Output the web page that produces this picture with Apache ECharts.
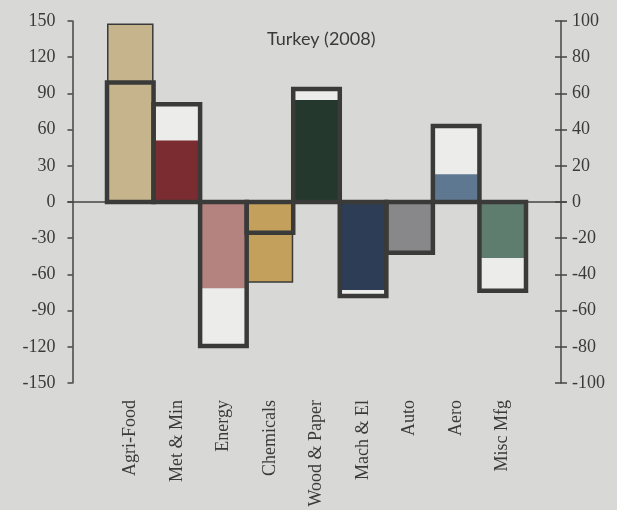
<!DOCTYPE html>
<html>
<head>
<meta charset="utf-8">
<script src="https://cdn.jsdelivr.net/npm/echarts@6/dist/echarts.min.js"></script>
<style>
html,body{margin:0;padding:0;background:#d8d9d6;}
#chart{width:617px;height:510px;}
</style>
</head>
<body>
<div id="chart"></div>
<script>
var categories = ['Agri-Food','Met & Min','Energy','Chemicals','Wood & Paper','Mach & El','Auto','Aero','Misc Mfg'];
// filled coloured bars (left axis)
var barValues = [148, 51, -71.5, -67, 84.5, -73, -42, 23, -46.5];
// outlined boxes (right axis)
var boxValues = [66, 54, -79.5, -17, 62.5, -52, -28, 42, -49];
var barColors = ['#c6b48c','#7a2c30','#b48380','#c3a05c','#24382e','#2e3d56','#88888a','#5f7891','#5f7d6e'];
var leftTicks = {min:-150, max:150, interval:30};
var rightTicks = {min:-100, max:100, interval:20};

var ink = '#3a3a38';
var labelFont = {fontFamily:'Liberation Serif', fontSize:18, color:'#3a3a3a'};

var barData = barValues.map(function(v,i){
  var exceeds = Math.abs(v)/leftTicks.max > Math.abs(boxValues[i])/rightTicks.max;
  return {value:v, itemStyle:{color:barColors[i], borderColor:ink, borderWidth: exceeds ? 1.5 : 0}};
});
var boxData = boxValues.map(function(v,i){ return [i, v]; });

function boxRender(params, api){
  var i = api.value(0), v = api.value(1);
  var end = api.coord([i, v]);
  var base = api.coord([i, 0]);
  var w = api.size([1, 0])[0];
  return {
    type:'rect',
    shape:{x:end[0]-w/2, y:Math.min(end[1], base[1]), width:w, height:Math.abs(base[1]-end[1])},
    style:{fill:'none', stroke:ink, lineWidth:4.5}
  };
}

var chart = echarts.init(document.getElementById('chart'));
chart.setOption({
  backgroundColor:'#d8d9d6',
  animation:false,
  title:{text:'Turkey (2008)', left:262, top:25,
    textStyle:{fontFamily:'Lato', fontSize:18, fontWeight:'normal', color:'#3a3a3a'}},
  grid:[
    {left:107, right:91, top:21, bottom:127},
    {left:68, right:51, top:21, bottom:127}
  ],
  xAxis:[
    {type:'category', gridIndex:0, data:categories,
     axisLine:{show:false, onZero:false}, axisTick:{show:false},
     axisLabel:Object.assign({rotate:90, margin:17, interval:0}, labelFont)},
    {type:'category', gridIndex:1, data:[''],
     axisLine:{show:true, onZero:true, lineStyle:{color:'#444', width:1.5}},
     axisTick:{show:false}, axisLabel:{show:false}}
  ],
  yAxis:[
    {type:'value', gridIndex:0, position:'left', offset:34.5,
     min:leftTicks.min, max:leftTicks.max, interval:leftTicks.interval,
     axisLine:{show:true, lineStyle:{color:'#444', width:1.5}},
     axisTick:{show:true, length:5, lineStyle:{color:'#444', width:1.5}},
     splitLine:{show:false},
     axisLabel:Object.assign({margin:17}, labelFont)},
    {type:'value', gridIndex:0, position:'right', offset:35,
     min:rightTicks.min, max:rightTicks.max, interval:rightTicks.interval,
     axisLine:{show:true, lineStyle:{color:'#444', width:1.5}},
     axisTick:{show:true, length:6, lineStyle:{color:'#444', width:1.5}},
     splitLine:{show:false},
     axisLabel:Object.assign({margin:11}, labelFont)},
    {type:'value', gridIndex:0, position:'right', offset:35,
     min:rightTicks.min, max:rightTicks.max, interval:rightTicks.interval,
     axisLine:{show:false},
     axisTick:{show:true, inside:true, length:6, lineStyle:{color:'#444', width:1.5}},
     splitLine:{show:false}, axisLabel:{show:false}},
    {type:'value', gridIndex:1, min:leftTicks.min, max:leftTicks.max, show:false}
  ],
  series:[
    {type:'bar', name:'boxFill', xAxisIndex:0, yAxisIndex:1, data:boxValues,
     barCategoryGap:'0%', barGap:'-100%', itemStyle:{color:'#ecedeb'}},
    {type:'bar', name:'bars', xAxisIndex:0, yAxisIndex:0, data:barData,
     barCategoryGap:'0%', barGap:'-100%'},
    {type:'custom', name:'boxOutline', xAxisIndex:0, yAxisIndex:1, data:boxData,
     encode:{x:0, y:1}, renderItem:boxRender, z:3}
  ]
});
</script>
</body>
</html>
